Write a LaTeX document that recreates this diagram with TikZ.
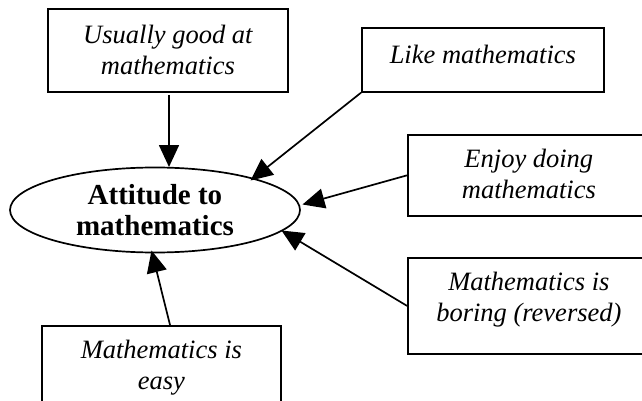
\documentclass[tikz,border=0pt]{standalone}
\usepackage{fontspec}
\setmainfont{Liberation Serif}
\usetikzlibrary{shapes.geometric,arrows.meta}
\newcommand{\boxtxt}[4]{\parbox[t][#2][t]{#1}{\centering\fontsize{26.5pt}{30.5pt}\selectfont\itshape\rule{0pt}{#3}#4\par}}
\begin{document}
\begin{tikzpicture}[x=1pt,y=-1pt,
  factorbox/.style={draw,line width=1.7pt,rectangle,inner sep=0pt,anchor=north west},
  arr/.style={line width=1.7pt,-{Triangle[length=22pt,width=20pt]}}]
\useasboundingbox (0,0) rectangle (642,401);
\clip (0,0) rectangle (642,401);
\node[factorbox] (usual) at (47,8) {\boxtxt{240pt}{83pt}{35pt}{Usually good at\\mathematics}};
\node[factorbox] (like) at (361,27) {\boxtxt{242pt}{64pt}{36pt}{Like mathematics}};
\node[factorbox] (enjoy) at (407,134) {\boxtxt{242pt}{81pt}{33pt}{Enjoy doing\\mathematics}};
\node[factorbox] (boring) at (407,257) {\boxtxt{242pt}{96pt}{33pt}{Mathematics is\\boring (reversed)}};
\node[factorbox] (easy) at (41,325) {\boxtxt{239pt}{90pt}{33pt}{Mathematics is\\easy}};
\node[draw,ellipse,line width=1.7pt,minimum width=290pt,minimum height=85pt,inner sep=0pt,align=center,
  font=\fontsize{29pt}{31pt}\selectfont\bfseries] (att) at (155,210) {Attitude to\\mathematics};
\coordinate (sU) at (169,95);
\coordinate (tU) at (169,167);
\coordinate (tL) at (250.5,180.5);
\coordinate (tE) at (302.5,204.5);
\coordinate (tB) at (281.5,230.5);
\coordinate (sE) at (170,325);
\coordinate (tS) at (151.5,250.5);
\draw[arr] (sU) -- (tU);
\draw[arr] (like.south west) -- (tL);
\draw[arr] (enjoy.west) -- (tE);
\draw[arr] (boring.west) -- (tB);
\draw[arr] (sE) -- (tS);
\end{tikzpicture}
\end{document}
